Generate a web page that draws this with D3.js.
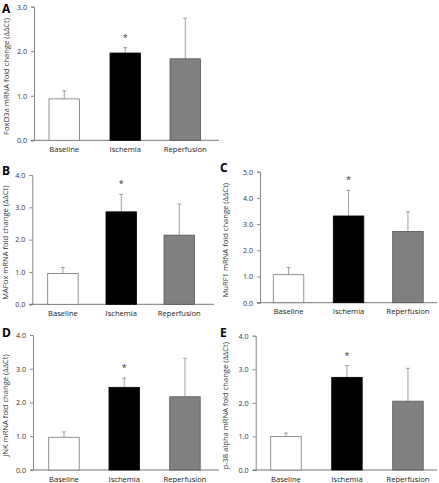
<!DOCTYPE html>
<html><head><meta charset="utf-8">
<script src="https://cdn.jsdelivr.net/npm/d3@7"></script>
<style>body{margin:0;background:#fff}svg{display:block}text{font-family:"Open Sans","Liberation Sans",sans-serif}</style>
</head><body><svg id="c" width="439" height="483"></svg>
<script>
const categories = ["Baseline", "Ischemia", "Reperfusion"];
const foxo3aMean = [0.93, 1.96, 1.83];
const foxo3aErr  = [1.11, 2.08, 2.74];
const mafbxMean  = [0.95, 2.86, 2.14];
const mafbxErr   = [1.14, 3.40, 3.10];
const murf1Mean  = [1.07, 3.31, 2.72];
const murf1Err   = [1.34, 4.29, 3.47];
const jnkMean    = [0.97, 2.45, 2.17];
const jnkErr     = [1.13, 2.72, 3.31];
const p38Mean    = [1.00, 2.76, 2.05];
const p38Err     = [1.10, 3.11, 3.03];
const significant = [false, true, false];
const yTicksA = [0, 1, 2, 3];
const yTicks4 = [0, 1, 2, 3, 4];
const yTicks5 = [0, 1, 2, 3, 4, 5];

const panels = [
  {letter:"A", title:"FoxO3a mRNA fold change (ΔΔCt)", mean:foxo3aMean, err:foxo3aErr, ticks:yTicksA,
   lx:2, ly:13, ax:34, x1:219, y0:140.3, yTop:6.7, tx:5.5, bx:[49,110,170]},
  {letter:"B", title:"MAFbx mRNA fold change (ΔΔCt)", mean:mafbxMean, err:mafbxErr, ticks:yTicks4,
   lx:2, ly:175, ax:32.3, x1:214, y0:304.3, yTop:175, tx:4.5, bx:[47.7,106,164]},
  {letter:"C", title:"MuRF1 mRNA fold change (ΔΔCt)", mean:murf1Mean, err:murf1Err, ticks:yTicks5,
   lx:220, ly:172, ax:260, x1:437, y0:302.7, yTop:171.7, tx:224.5, bx:[273.3,333.3,392.7]},
  {letter:"D", title:"JNK mRNA fold change (ΔΔCt)", mean:jnkMean, err:jnkErr, ticks:yTicks4,
   lx:2, ly:337, ax:33, x1:219, y0:470, yTop:335, tx:4.5, bx:[48.7,109,169.7]},
  {letter:"E", title:"p-38 alpha mRNA fold change (ΔΔCt)", mean:p38Mean, err:p38Err, ticks:yTicks4,
   lx:220, ly:337, ax:255.7, x1:437, y0:470, yTop:335.7, tx:224.5, bx:[270.7,331.7,392.7]}
];
const fills = ["#ffffff", "#000000", "#808080"];
const strokes = ["#777777", "#000000", "#555555"];
const svg = d3.select("#c");
const barW = 30.5;

panels.forEach(p => {
  const g = svg.append("g");
  const maxT = p.ticks[p.ticks.length-1];
  const y = d3.scaleLinear().domain([0, maxT]).range([p.y0, p.yTop]);
  const x = d3.scaleOrdinal().domain(categories).range(p.bx);

  g.append("text").attr("x", p.lx).attr("y", p.ly).attr("font-size", 12).attr("font-weight", "bold")
    .attr("font-family", "Liberation Sans, Arial, sans-serif").text(p.letter);

  const yAxis = d3.axisLeft(y).tickValues(p.ticks).tickFormat(d3.format(".1f")).tickSize(3).tickPadding(4);
  const ya = g.append("g").attr("transform", `translate(${p.ax},0)`).call(yAxis);
  ya.select(".domain").attr("stroke", "#888");
  ya.selectAll(".tick line").attr("stroke", "#888");
  ya.selectAll(".tick text").attr("font-size", 7.2).attr("fill", "#333");

  g.append("line").attr("x1", p.ax - 3).attr("x2", p.x1).attr("y1", p.y0).attr("y2", p.y0).attr("stroke", "#777");

  g.append("text").attr("transform", `translate(${p.tx},${(p.y0 + p.yTop)/2 + 3}) rotate(-90)`)
    .attr("text-anchor", "middle").attr("dominant-baseline", "central").attr("font-size", 7.6).attr("fill", "#333")
    .text(p.title);

  categories.forEach((c, i) => {
    const bx = x(c);
    const cx = bx + barW/2;
    g.append("line").attr("x1", cx).attr("x2", cx).attr("y1", y(p.mean[i])).attr("y2", y(p.err[i]))
      .attr("stroke", "#888").attr("stroke-width", 0.8);
    g.append("line").attr("x1", cx - 2).attr("x2", cx + 2).attr("y1", y(p.err[i])).attr("y2", y(p.err[i]))
      .attr("stroke", "#888").attr("stroke-width", 0.8);
    g.append("rect").attr("x", bx).attr("y", y(p.mean[i])).attr("width", barW)
      .attr("height", y(0) - y(p.mean[i])).attr("fill", fills[i]).attr("stroke", strokes[i]).attr("stroke-width", 0.8);
    if (significant[i]) {
      g.append("text").attr("x", cx).attr("y", y(p.err[i]) - 7).attr("text-anchor", "middle")
        .attr("font-size", 9).attr("fill", "#333").text("*");
    }
    g.append("text").attr("x", cx).attr("y", p.y0 + 11.5).attr("text-anchor", "middle")
      .attr("font-size", 7.6).attr("fill", "#222").text(c);
  });
});
</script></body></html>
